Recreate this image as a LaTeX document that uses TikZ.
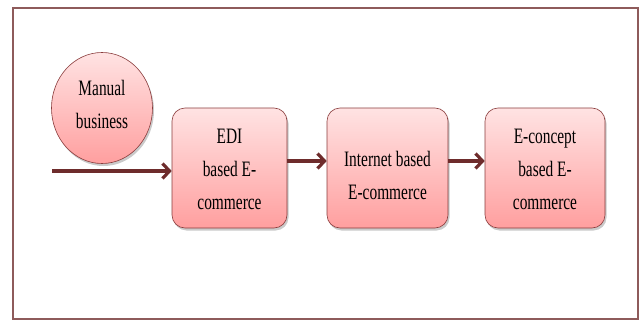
\documentclass[tikz,border=0pt]{standalone}
\usepackage{fontspec}
\setmainfont[FakeStretch=0.70]{Liberation Serif}
\usetikzlibrary{arrows.meta,shadows,shapes.geometric}
\definecolor{framecol}{HTML}{8E5B5B}
\definecolor{edgecol}{HTML}{8A3C3C}
\definecolor{arrowcol}{HTML}{6E2C2C}
\definecolor{filltop}{HTML}{FFE3E3}
\definecolor{fillbot}{HTML}{FF9F9F}
\tikzset{
  x=1pt, y=-1pt,
  stage/.style={draw=edgecol, line width=0.6pt, rounded corners=13pt,
    top color=filltop, bottom color=fillbot,
    minimum width=120pt, minimum height=120pt, inner sep=0pt,
    drop shadow={shadow xshift=1.5pt, shadow yshift=-2.5pt, opacity=0.35, fill=black!60}},
  origin/.style={stage, ellipse, rounded corners=0pt,
    minimum width=101pt, minimum height=111pt},
  words/.style={anchor=north, inner sep=0pt, align=center,
    font=\fontsize{22}{33}\selectfont},
  flow/.style={draw=arrowcol, line width=3.8pt,
    -{Straight Barb[length=7pt, width=15pt, line width=3.2pt]}}
}
\begin{document}
\begin{tikzpicture}
  \useasboundingbox (0,0) rectangle (639,321);
  \draw[framecol, line width=2pt] (13,8) rectangle (638,319);
  % stages
  \node[origin] (manual) at (102,108) {};
  \node[stage, minimum width=115pt] (edi) at (229.5,168) {};
  \node[stage, minimum width=121pt] (inet) at (387.5,168) {};
  \node[stage] (econ) at (545,168) {};
  % their captions
  \node[words] (manual-t) at (102,80) {Manual\\business};
  \node[words] (edi-t) at (229.5,129) {EDI\\based E-\\commerce};
  \node[words] (inet-t) at (387.5,151) {Internet based\\E-commerce};
  \node[words] (econ-t) at (545,129) {E-concept\\based E-\\commerce};
  % flow
  \coordinate (start) at (52,171);
  \draw[flow] (start) -- (edi.west |- start);
  \draw[flow] (edi.east |- 0,161) -- (inet.west |- 0,161);
  \draw[flow] (inet.east |- 0,161) -- (econ.west |- 0,161);
\end{tikzpicture}
\end{document}
